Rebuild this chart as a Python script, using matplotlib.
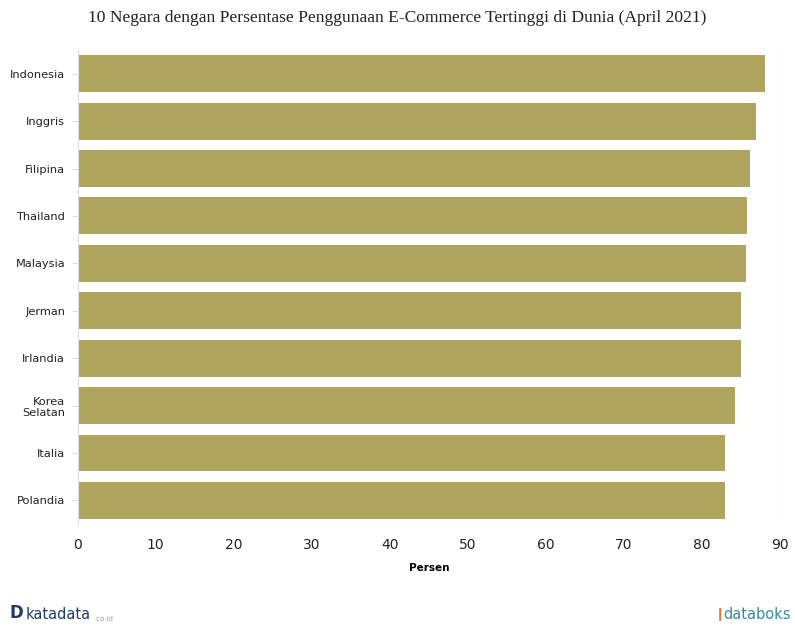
import matplotlib.pyplot as plt
import numpy as np

# Data persentase pengguna e-commerce (April 2021)
negara = ['Indonesia', 'Inggris', 'Filipina', 'Thailand', 'Malaysia',
          'Jerman', 'Irlandia', 'Korea\nSelatan', 'Italia', 'Polandia']
persen = [88.1, 86.9, 86.2, 85.8, 85.7, 85.0, 85.0, 84.3, 83.0, 83.0]
xticks = [0, 10, 20, 30, 40, 50, 60, 70, 80, 90]

warna_bar = '#b0a35e'

fig = plt.figure(figsize=(7.95, 6.33), dpi=100)
ax = fig.add_axes([0.0977, 0.172, 0.8833, 0.749])

y = np.arange(len(negara))
ax.barh(y, persen, height=0.78, color=warna_bar, zorder=2)
ax.set_ylim(len(negara) - 0.5, -0.5)
ax.set_xlim(0, 90)

ax.set_yticks(y)
ax.set_yticklabels(negara, fontsize=8.2, color='#222222')
ax.set_xticks(xticks)
ax.set_xticklabels([str(t) for t in xticks], fontsize=10, color='#222222')
ax.tick_params(axis='y', length=4, color='#dddddd', pad=5)
ax.tick_params(axis='x', length=0, pad=10)

for s in ['top', 'right', 'bottom']:
    ax.spines[s].set_visible(False)
ax.spines['left'].set_color('#dddddd')
ax.axvline(90, color='#e6e6e6', lw=0.8, zorder=1)

ax.set_xlabel('Persen', fontsize=7.5, fontweight='bold', labelpad=8)

fig.text(0.5, 0.972, '10 Negara dengan Persentase Penggunaan E-Commerce Tertinggi di Dunia (April 2021)',
         ha='center', va='center', fontsize=12.6, family='Liberation Serif', color='#222222')

# logo teks
fig.text(0.012, 0.017, 'D', fontsize=12, fontweight='bold', color='#1f3d6b', va='bottom')
fig.text(0.032, 0.017, 'katadata', fontsize=10.5, color='#1f3d6b', va='bottom')
fig.text(0.118, 0.018, '.co.id', fontsize=5, color='#999999', va='bottom')
fig.text(0.995, 0.017, 'databoks', fontsize=10.5, color='#3a8a9a', va='bottom', ha='right')
fig.text(0.912, 0.019, '\u2759', fontsize=9, color='#e07a3a', va='bottom', ha='right')

fig.savefig('out.png', dpi=100)
